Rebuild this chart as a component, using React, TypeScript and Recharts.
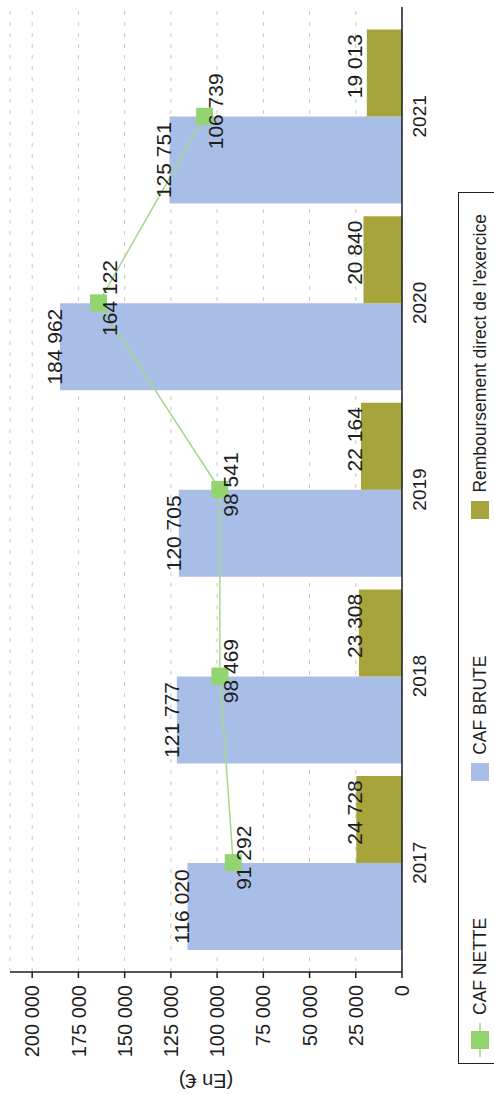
import React from 'react';
import { ComposedChart, Bar, Line, XAxis, YAxis, CartesianGrid, Legend, LabelList } from 'recharts';

const years = ['2017', '2018', '2019', '2020', '2021'];
const cafNette = [91292, 98469, 98541, 164122, 106739];
const cafBrute = [116020, 121777, 120705, 184962, 125751];
const remboursement = [24728, 23308, 22164, 20840, 19013];
const valueTicks = [0, 25000, 50000, 75000, 100000, 125000, 150000, 175000, 200000];
const legendOrder = ['CAF NETTE', 'CAF BRUTE', "Remboursement direct de l'exercice"];

const data = years.map((year, i) => ({
  year,
  nette: cafNette[i],
  brute: cafBrute[i],
  remb: remboursement[i],
}));

const FONT = "'Liberation Sans', Arial, sans-serif";
const TEXT = '#1e1e1e';
const BLUE = '#a9bee6';
const OLIVE = '#a8a43c';
const GREEN = '#92d46f';
const GREEN_LINE = '#a3d88a';

// the chart is laid out landscape, then turned a quarter turn
const W = 1094;
const H = 494;

const fmt = (v: number) => String(v).replace(/\B(?=(\d{3})+(?!\d))/g, ' ');

const box = (p: any) => {
  const vb = p.viewBox || {};
  return {
    x: vb.x ?? p.x ?? 0,
    y: vb.y ?? p.y ?? 0,
    width: vb.width ?? p.width ?? 0,
    height: vb.height ?? p.height ?? 0,
  };
};

const BruteLabel = (p: any) => {
  const b = box(p);
  return (
    <text x={b.x + b.width / 2} y={b.y + 2} textAnchor="middle" fontSize={21} fontFamily={FONT} fill={TEXT}>
      {fmt(Number(p.value))}
    </text>
  );
};

const RembLabel = (p: any) => {
  const b = box(p);
  return (
    <text x={b.x + b.width / 2 + 7} y={b.y + b.height - 40} textAnchor="middle" fontSize={21} fontFamily={FONT} fill={TEXT}>
      {fmt(Number(p.value))}
    </text>
  );
};

const NetteLabel = (p: any) => {
  const b = box(p);
  return (
    <text x={b.x + 5} y={b.y + 18} textAnchor="middle" fontSize={21} fontFamily={FONT} fill={TEXT}>
      {fmt(Number(p.value))}
    </text>
  );
};

const SquareDot = (p: any) => {
  const { cx, cy } = p;
  if (cx == null || cy == null) return <g />;
  return <rect x={cx - 8.5} y={cy - 8.5} width={17} height={17} fill={GREEN} />;
};

const UnitLabel = (p: any) => {
  const vb = p.viewBox || { x: 0, y: 0, height: 0 };
  const x = vb.x + 13;
  const y = vb.y + vb.height / 2;
  return (
    <text x={x} y={y} transform={`rotate(-90 ${x} ${y})`} textAnchor="middle" dominantBaseline="central"
      fontSize={20} fontFamily={FONT} fill={TEXT}>
      (En €)
    </text>
  );
};

const LegendBox = (props: any) => {
  const items = [...(props.payload || [])].sort(
    (a: any, b: any) => legendOrder.indexOf(a.value) - legendOrder.indexOf(b.value)
  );
  return (
    <div
      style={{
        display: 'flex',
        alignItems: 'center',
        justifyContent: 'space-between',
        boxSizing: 'border-box',
        width: 872,
        height: 44,
        padding: '0 21px 0 6px',
        border: `1.5px solid ${TEXT}`,
        background: '#fff',
        fontFamily: FONT,
        fontSize: 17.5,
        color: TEXT,
        whiteSpace: 'nowrap',
      }}
    >
      {items.map((item: any) => (
        <span key={item.value} style={{ display: 'inline-flex', alignItems: 'center' }}>
          {item.type === 'line' ? (
            <svg width={34} height={18}>
              <line x1={0} y1={9} x2={34} y2={9} stroke={GREEN_LINE} strokeWidth={1.5} />
              <rect x={8} y={0} width={18} height={18} fill={GREEN} />
            </svg>
          ) : (
            <svg width={18} height={18}>
              <rect width={18} height={18} fill={item.color} />
            </svg>
          )}
          <span style={{ marginLeft: 8 }}>{item.value}</span>
        </span>
      ))}
    </div>
  );
};

export default function App() {
  return (
    <div style={{ position: 'absolute', left: 0, top: 0, width: H, height: W, overflow: 'hidden', background: '#fff' }}>
      <div
        style={{
          position: 'absolute',
          left: 0,
          top: 0,
          width: W,
          height: H,
          transformOrigin: '0 0',
          transform: `translateY(${W}px) rotate(-90deg)`,
        }}
      >
        <ComposedChart
          width={W}
          height={H}
          data={data}
          margin={{ top: 10, right: 7, bottom: 52, left: 0 }}
          barCategoryGap={6}
          barGap={0}
        >
          <CartesianGrid vertical={false} stroke="#c8c8c8" strokeDasharray="4 7" />
          <XAxis
            dataKey="year"
            height={40}
            padding={{ left: 16, right: 16 }}
            tickLine={false}
            tickSize={0}
            tickMargin={11}
            axisLine={{ stroke: TEXT, strokeWidth: 1.5 }}
            tick={{ fontSize: 19, fontFamily: FONT, fill: TEXT }}
          />
          <YAxis
            width={122}
            domain={[0, 212000]}
            ticks={valueTicks}
            tickFormatter={fmt}
            tickSize={6}
            tickMargin={7}
            axisLine={{ stroke: TEXT, strokeWidth: 1.5 }}
            tickLine={{ stroke: TEXT, strokeWidth: 1.5 }}
            tick={{ fontSize: 20, fontFamily: FONT, fill: TEXT }}
            label={{ content: UnitLabel }}
          />
          <Legend
            layout="vertical"
            verticalAlign="middle"
            align="center"
            wrapperStyle={{ left: 30, top: 458, width: 872 }}
            content={LegendBox}
          />
          <Bar dataKey="brute" name="CAF BRUTE" fill={BLUE} isAnimationActive={false}>
            <LabelList dataKey="brute" content={BruteLabel} />
          </Bar>
          <Bar dataKey="remb" name="Remboursement direct de l'exercice" fill={OLIVE} isAnimationActive={false}>
            <LabelList dataKey="remb" content={RembLabel} />
          </Bar>
          <Line
            dataKey="nette"
            name="CAF NETTE"
            type="linear"
            stroke={GREEN_LINE}
            strokeWidth={1.5}
            dot={SquareDot}
            activeDot={false}
            isAnimationActive={false}
          >
            <LabelList dataKey="nette" content={NetteLabel} />
          </Line>
        </ComposedChart>
      </div>
    </div>
  );
}
